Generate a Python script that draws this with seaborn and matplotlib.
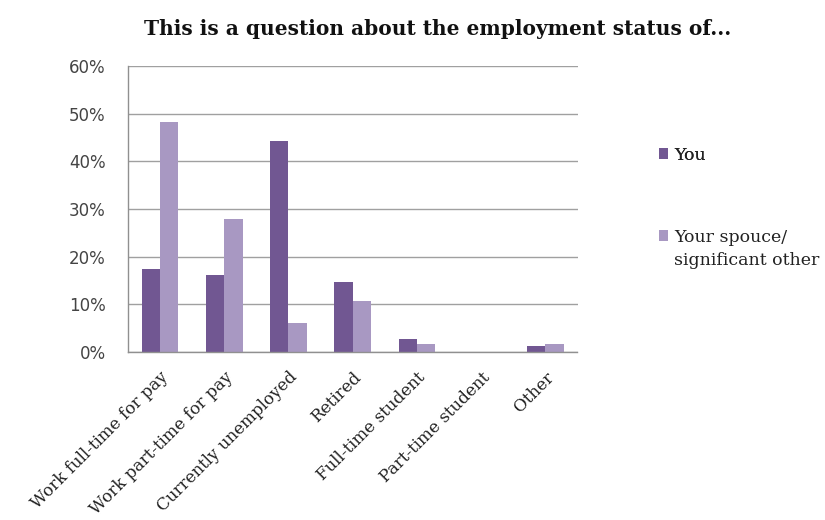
import matplotlib
matplotlib.use("Agg")
import matplotlib.pyplot as plt
import seaborn as sns
import pandas as pd
from matplotlib.ticker import PercentFormatter
from matplotlib.patches import Patch

categories = ["Work full-time for pay", "Work part-time for pay", "Currently unemployed",
              "Retired", "Full-time student", "Part-time student", "Other"]
you = [17.4, 16.1, 44.3, 14.6, 2.7, 0.0, 1.3]
spouse = [48.2, 27.9, 6.0, 10.8, 1.6, 0.0, 1.6]
series_names = ["You", "Your spouce/\nsignificant other"]
colors = ["#715792", "#a898c2"]

df = pd.DataFrame({
    "category": categories * 2,
    "value": you + spouse,
    "who": [series_names[0]] * len(categories) + [series_names[1]] * len(categories),
})

sns.set_theme(style="white")
serif = "DejaVu Serif"
fig = plt.figure(figsize=(8.25, 5.2), dpi=100)
ax = fig.add_axes([0.155, 0.323, 0.545, 0.55])

sns.barplot(data=df, x="category", y="value", hue="who", palette=colors,
            width=0.57, ax=ax, legend=False, saturation=1, linewidth=0)

ax.set_ylim(0, 60)
ax.set_yticks(range(0, 61, 10))
ax.yaxis.set_major_formatter(PercentFormatter(decimals=0))
ax.set_xlim(-0.5, len(categories) - 0.5)
ax.grid(axis="y", color="#a0a0a0", linewidth=1)
ax.set_axisbelow(True)
for s in ["top", "right"]:
    ax.spines[s].set_visible(False)
for s in ["left", "bottom"]:
    ax.spines[s].set_color("#909090")
    ax.spines[s].set_linewidth(1)
ax.set_xlabel("")
ax.set_ylabel("")
ax.tick_params(axis="y", length=0, pad=16, labelsize=12, labelcolor="#444444")
ax.tick_params(axis="x", length=0, pad=12)
for lab in ax.get_yticklabels():
    lab.set_family("DejaVu Sans")
ax.set_xticks(range(len(categories)))
ax.set_xticklabels(categories, rotation=45, ha="right", rotation_mode="anchor",
                   family=serif, fontsize=12.1, color="#222222")

fig.text(0.53, 0.945, "This is a question about the employment status of...",
         ha="center", va="center", family=serif, fontweight="bold",
         fontsize=14.5, color="#111111")

# legend: one box per series so the second entry's swatch sits on its first line
h_you = [Patch(facecolor=colors[0], edgecolor="none")]
leg1 = fig.legend(h_you, [series_names[0]], loc="center left",
                  bbox_to_anchor=(0.788, 1 - 155 / 520), frameon=False,
                  handlelength=0.55, handleheight=0.55, handletextpad=0.35,
                  borderpad=0, prop={"family": serif, "size": 12.5},
                  labelcolor="#222222")
first, second = series_names[1].split("\n")
h_sp = [Patch(facecolor=colors[1], edgecolor="none"),
        Patch(facecolor="none", edgecolor="none")]
leg2 = fig.legend(h_sp, [first, second], loc="upper left",
                  bbox_to_anchor=(0.788, 1 - 220 / 520), frameon=False,
                  handlelength=0.55, handleheight=0.55, handletextpad=0.35,
                  labelspacing=0.38, borderpad=0,
                  prop={"family": serif, "size": 12.5}, labelcolor="#222222")
fig.add_artist(leg1)

fig.savefig("out.png", dpi=100)
